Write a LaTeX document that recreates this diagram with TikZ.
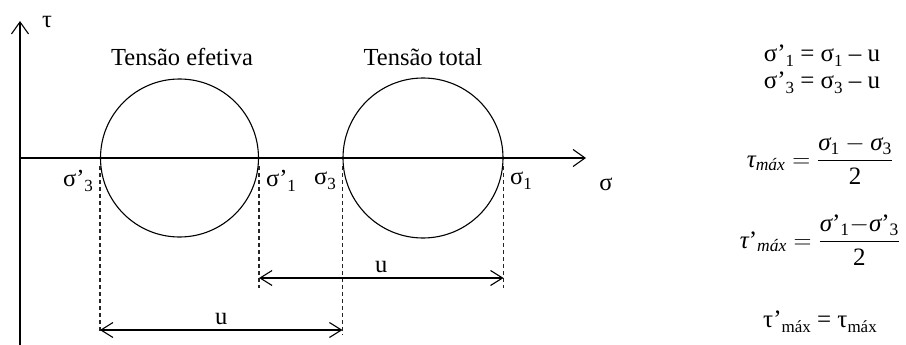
\documentclass[tikz,border=0pt]{standalone}
\usepackage{amsmath}
\usepackage{fontspec}
\setmainfont{Liberation Serif}
\usepackage{tikz}
\usetikzlibrary{arrows.meta}

% lowered index, like the picture's sub numbers
\newcommand{\idx}[1]{\raisebox{-0.45ex}{\fontsize{17}{17}\selectfont #1}}
\newcommand{\ittext}[1]{\text{\itshape #1}}

\begin{document}
\begin{tikzpicture}[x=1pt, y=-1pt,
  line width=1.1pt,
  lbl/.style={inner sep=0pt, font=\fontsize{24.5}{28}\selectfont},
  eqn/.style={inner sep=0pt, font=\fontsize{25}{28}\selectfont},
  axis/.style={-{Straight Barb[length=12pt, width=17pt]}},
  dim/.style={{Straight Barb[length=12pt, width=15pt]}-{Straight Barb[length=12pt, width=15pt]}},
  guide/.style={dashed, dash pattern=on 4pt off 3pt, line width=1.2pt, draw=black!85}]
\useasboundingbox (0,0) rectangle (906,345);
% axes
\coordinate (o) at (20,158);
\coordinate (ytop) at (20,21);
\coordinate (ybot) at (20,345);
\coordinate (xend) at (586,158);
\draw[axis] (ybot) -- (ytop);
\draw[axis] (o) -- (xend);
\node[lbl] (tau) at (47,22) {τ};
\node[lbl] (sig) at (606,184) {σ};
% circles
\node[draw, circle, minimum size=158pt, inner sep=0pt] (eff) at (179.5,158) {};
\node[draw, circle, minimum size=160pt, inner sep=0pt] (tot) at (423,158) {};
\node[lbl] (efflbl) at (182,57) {Tensão efetiva};
\node[lbl] (totlbl) at (423,57) {Tensão total};
% points on the axis
\node[lbl] (s3e) at (78,181) {σ’\idx{3}};
\node[lbl] (s1e) at (281,181) {σ’\idx{1}};
\node[lbl] (s3) at (325,181) {σ\idx{3}};
\node[lbl] (s1) at (521,181) {σ\idx{1}};
% guides
\coordinate (g1t) at (eff.west |- 0,166);
\coordinate (g1b) at (eff.west |- 0,333);
\coordinate (g2t) at (eff.east |- 0,166);
\coordinate (g2b) at (eff.east |- 0,288);
\coordinate (g3t) at (tot.west |- 0,166);
\coordinate (g3b) at (tot.west |- 0,335);
\coordinate (g4t) at (tot.east |- 0,166);
\coordinate (g4b) at (tot.east |- 0,288);
\draw[guide] (g1t) -- (g1b);
\draw[guide] (g2t) -- (g2b);
\draw[guide] (g3t) -- (g3b);
\draw[guide] (g4t) -- (g4b);
% u offsets
\coordinate (ua) at (eff.east |- 0,278);
\coordinate (ub) at (tot.east |- 0,278);
\coordinate (uc) at (eff.west |- 0,330);
\coordinate (ud) at (tot.west |- 0,330);
\draw[dim] (ua) -- node[lbl, above=5pt] (u1) {u} (ub);
\draw[dim] (uc) -- node[lbl, above=5pt] (u2) {u} (ud);
% relations
\node[eqn] (e1) at (822,56) {σ’\idx{1} = σ\idx{1} – u};
\node[eqn] (e2) at (822,83) {σ’\idx{3} = σ\idx{3} – u};
\node[eqn] (e3) at (820,160) {$\ittext{τ}_{\ittext{máx}} = \dfrac{\ittext{σ}_{\text{1}} - \ittext{σ}_{\text{3}}}{\text{2}}$};
\node[eqn] (e4) at (820,240) {$\ittext{τ}\text{'}_{\ittext{máx}} = \dfrac{\ittext{σ}\text{'}_{\text{1}} {-} \ittext{σ}\text{'}_{\text{3}}}{\text{2}}$};
\node[eqn] (e5) at (820,322) {τ’\idx{máx} = τ\idx{máx}};
\end{tikzpicture}
\end{document}
